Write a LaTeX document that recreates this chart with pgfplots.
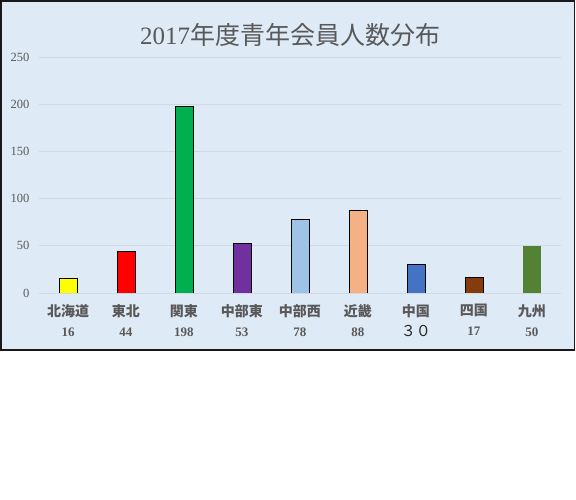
\documentclass[border=0pt]{standalone}
\usepackage{fontspec}
\setmainfont{Liberation Serif}
\newfontfamily\cjk{Noto Sans CJK JP}
\usepackage{pgfplots}
\pgfplotsset{compat=1.18}

\definecolor{panel}{HTML}{DEEAF6}
\definecolor{txt}{HTML}{595959}
\definecolor{gridc}{HTML}{D0D8E0}
\definecolor{c1}{HTML}{FFFF00}
\definecolor{c2}{HTML}{FF0000}
\definecolor{c3}{HTML}{00B050}
\definecolor{c4}{HTML}{7030A0}
\definecolor{c5}{HTML}{9DC3E6}
\definecolor{c6}{HTML}{F4B183}
\definecolor{c7}{HTML}{4472C4}
\definecolor{c8}{HTML}{843C0C}
\definecolor{c9}{HTML}{548235}

\newcommand{\nm}[2]{{\cjk\bfseries #1}\\{\fontsize{13}{13}\selectfont\bfseries #2}}

\begin{document}
\begin{tikzpicture}[x=1pt,y=1pt]
\useasboundingbox (0,0) rectangle (576,500);
\fill[white] (0,0) rectangle (576,500);
\draw[line width=1.8pt, fill=panel, draw=black!90] (0.9,150) rectangle (574.5,499.1);
\node[text=txt, font=\fontsize{25}{27}\selectfont] at (290,465) {2017{\cjk 年度青年会員人数分布}};
\begin{axis}[
    at={(39pt,207pt)}, anchor=south west,
    scale only axis,
    width=522pt, height=236pt,
    xmin=-0.5, xmax=8.5,
    ymin=0, ymax=250,
    ytick={0,50,100,150,200,250},
    ymajorgrids,
    grid style={gridc, line width=0.6pt},
    axis line style={draw=none},
    major tick length=0pt,
    ybar, bar width=18pt,
    bar shift=0pt,
    xtick={0,...,8},
    xticklabels={
      {\nm{北海道}{16}},
      {\nm{東北}{44}},
      {\nm{関東}{198}},
      {\nm{中部東}{53}},
      {\nm{中部西}{78}},
      {\nm{近畿}{88}},
      {{\cjk\bfseries 中国}\\{\cjk\color{black!85}\fontsize{15}{15}\selectfont ３０}},
      {\nm{四国}{17}},
      {\nm{九州}{50}}},
    xticklabel style={align=center, text=txt, font=\fontsize{14}{20}\selectfont, yshift=-8pt},
    yticklabel style={text=txt, font=\fontsize{12.5}{13}\selectfont, xshift=-6pt},
    /pgf/number format/assume math mode=true,
]
\addplot[fill=c1, draw=black] coordinates {(0,16)};
\addplot[fill=c2, draw=black] coordinates {(1,44)};
\addplot[fill=c3, draw=black] coordinates {(2,198)};
\addplot[fill=c4, draw=black] coordinates {(3,53)};
\addplot[fill=c5, draw=black] coordinates {(4,78)};
\addplot[fill=c6, draw=black] coordinates {(5,88)};
\addplot[fill=c7, draw=black] coordinates {(6,30)};
\addplot[fill=c8, draw=black] coordinates {(7,17)};
\addplot[fill=c9, draw=none] coordinates {(8,50)};
\end{axis}
\end{tikzpicture}
\end{document}
